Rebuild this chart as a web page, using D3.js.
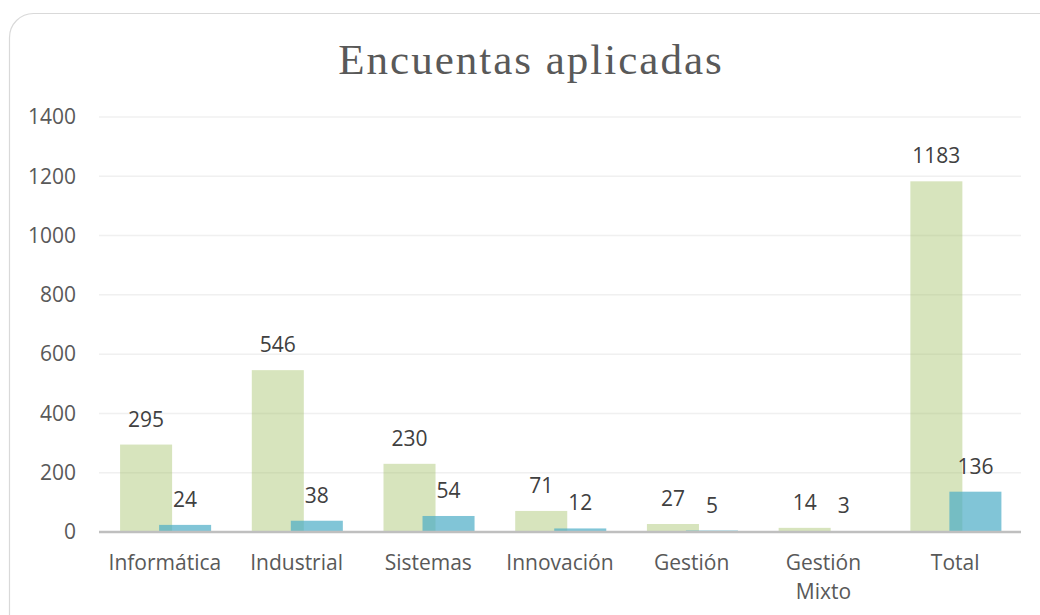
<!DOCTYPE html>
<html>
<head>
<meta charset="utf-8">
<script src="https://cdn.jsdelivr.net/npm/d3@7"></script>
<style>
  body { margin: 0; background: #fff; }
  .tick text, .cat { font: 21px "Open Sans", sans-serif; fill: #595959; }
  .lbl { font: 21px "Open Sans", sans-serif; fill: #404040; text-anchor: middle; }
  .title { font: 43px "Liberation Serif", "DejaVu Serif", serif; fill: #595959; letter-spacing: 2px; text-anchor: middle; }
</style>
</head>
<body>
<svg id="chart" width="1040" height="615"></svg>
<script>
var categories = ["Informática", "Industrial", "Sistemas", "Innovación", "Gestión", "Gestión Mixto", "Total"];
var aplicadas = [295, 546, 230, 71, 27, 14, 1183];
var respondidas = [24, 38, 54, 12, 5, 3, 136];
var yTicks = [0, 200, 400, 600, 800, 1000, 1200, 1400];

var svg = d3.select("#chart"),
  margin = {left: 99, right: 19, top: 117, bottom: 83},
  width = 1040 - margin.left - margin.right,
  height = 615 - margin.top - margin.bottom;

// card border
svg.append("rect")
  .attr("x", 9.5).attr("y", 13.5)
  .attr("width", 1060).attr("height", 630)
  .attr("rx", 24).attr("ry", 24)
  .attr("fill", "#fff").attr("stroke", "#d9d9d9").attr("stroke-width", 1.2);

svg.append("text").attr("class", "title")
  .attr("x", 531).attr("y", 74)
  .text("Encuentas aplicadas");

var g = svg.append("g").attr("transform", "translate(" + margin.left + "," + margin.top + ")");

var x = d3.scaleBand().domain(categories).range([0, width]);
var y = d3.scaleLinear().domain([0, 1400]).range([height, 0]);

var bw = x.bandwidth() * 0.395,
  off1 = x.bandwidth() * 0.16,
  off2 = off1 + bw * 0.75;

// gridlines
g.selectAll(".grid").data(yTicks.slice(1)).enter().append("line")
  .attr("x1", 0).attr("x2", width)
  .attr("y1", function(d) { return y(d); }).attr("y2", function(d) { return y(d); })
  .attr("stroke", "#f0f0f0").attr("stroke-width", 1.5);

var yAxis = g.append("g")
  .call(d3.axisLeft(y).tickValues(yTicks).tickFormat(d3.format("d")).tickSize(0).tickPadding(23));
yAxis.select(".domain").remove();

g.selectAll(".bar1").data(aplicadas).enter().append("rect")
  .attr("x", function(d, i) { return x(categories[i]) + off1; })
  .attr("y", function(d) { return y(d); })
  .attr("width", bw)
  .attr("height", function(d) { return height - y(d); })
  .attr("fill", "#9bbb59").attr("fill-opacity", 0.4);

g.selectAll(".bar2").data(respondidas).enter().append("rect")
  .attr("x", function(d, i) { return x(categories[i]) + off2; })
  .attr("y", function(d) { return y(d); })
  .attr("width", bw)
  .attr("height", function(d) { return height - y(d); })
  .attr("fill", "#4bacc6").attr("fill-opacity", 0.7);

g.selectAll(".l1").data(aplicadas).enter().append("text").attr("class", "lbl")
  .attr("x", function(d, i) { return x(categories[i]) + off1 + bw / 2; })
  .attr("y", function(d) { return y(d) - 18; })
  .text(function(d) { return d; });

g.selectAll(".l2").data(respondidas).enter().append("text").attr("class", "lbl")
  .attr("x", function(d, i) { return x(categories[i]) + off2 + bw / 2; })
  .attr("y", function(d) { return y(d) - 18; })
  .text(function(d) { return d; });

// x axis line
g.append("line")
  .attr("x1", 0).attr("x2", width)
  .attr("y1", height).attr("y2", height)
  .attr("stroke", "#bfbfbf").attr("stroke-width", 2.5);

// category labels (wrap on space only for long names)
categories.forEach(function(c, i) {
  var lines = c === "Gestión Mixto" ? c.split(" ") : [c];
  var t = g.append("text").attr("class", "cat")
    .attr("text-anchor", "middle")
    .attr("x", x(c) + x.bandwidth() / 2)
    .attr("y", height + 38);
  lines.forEach(function(s, k) {
    t.append("tspan").attr("x", x(c) + x.bandwidth() / 2).attr("dy", k ? 29 : 0).text(s);
  });
});
</script>
</body>
</html>
